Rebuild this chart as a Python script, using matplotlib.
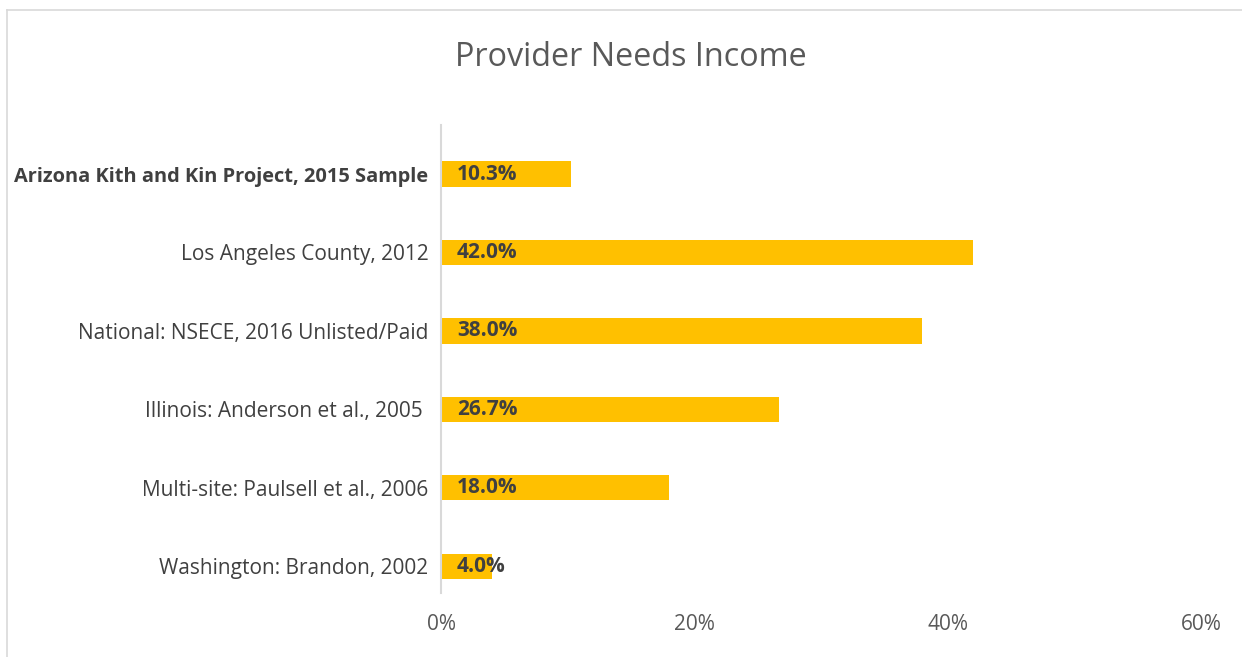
import matplotlib
matplotlib.use("Agg")
import matplotlib.pyplot as plt
from matplotlib.ticker import FuncFormatter
from matplotlib.lines import Line2D

categories = [
    "Arizona Kith and Kin Project, 2015 Sample",
    "Los Angeles County, 2012",
    "National: NSECE, 2016 Unlisted/Paid",
    "Illinois: Anderson et al., 2005 ",
    "Multi-site: Paulsell et al., 2006",
    "Washington: Brandon, 2002",
]
values = [10.3, 42.0, 38.0, 26.7, 18.0, 4.0]
xticks = [0, 20, 40, 60]
title = "Provider Needs Income"

plt.rcParams['font.family'] = ['Open Sans', 'DejaVu Sans']

W, H = 1242, 657
fig = plt.figure(figsize=(W / 100, H / 100), dpi=100)
ax = fig.add_axes([441 / W, 1 - 593 / H, (1201 - 441) / W, (593 - 125) / H])

ypos = list(range(len(categories)))
ax.barh(ypos, values, height=0.32, color="#FFC000", zorder=2)
ax.set_xlim(0, 60)
ax.set_ylim(5 + 0.34, -0.625)

for y, v in zip(ypos, values):
    ax.annotate(f"{v:.1f}%", xy=(0, y), xytext=(11.5, 0), textcoords="offset points",
                ha="left", va="center", fontsize=15, fontweight="bold",
                color="#404040", zorder=3)

ax.set_yticks(ypos)
ax.set_yticklabels(categories, fontsize=15, color="#404040")
ax.get_yticklabels()[0].set_fontweight("bold")
ax.get_yticklabels()[0].set_fontsize(14.4)
ax.set_xticks(xticks)
ax.xaxis.set_major_formatter(FuncFormatter(lambda x, p: f"{x:.0f}%"))
ax.tick_params(axis="x", length=0, pad=15, labelsize=15, labelcolor="#595959")
ax.tick_params(axis="y", length=0, pad=9)

for s in ["top", "right", "bottom"]:
    ax.spines[s].set_visible(False)
ax.spines["left"].set_color("#D9D9D9")
ax.spines["left"].set_linewidth(1.5)

fig.text(631 / W, 1 - 57 / H, title, ha="center", va="center", fontsize=23.3, color="#595959")

# chart border (partially cropped)
fig.add_artist(Line2D([7 / W, 7 / W], [0, 1 - 10 / H], transform=fig.transFigure, color="#D9D9D9", lw=1.2))
fig.add_artist(Line2D([7 / W, 1], [1 - 10 / H, 1 - 10 / H], transform=fig.transFigure, color="#D9D9D9", lw=1.2))

fig.savefig("out.png", dpi=100, facecolor="white")
